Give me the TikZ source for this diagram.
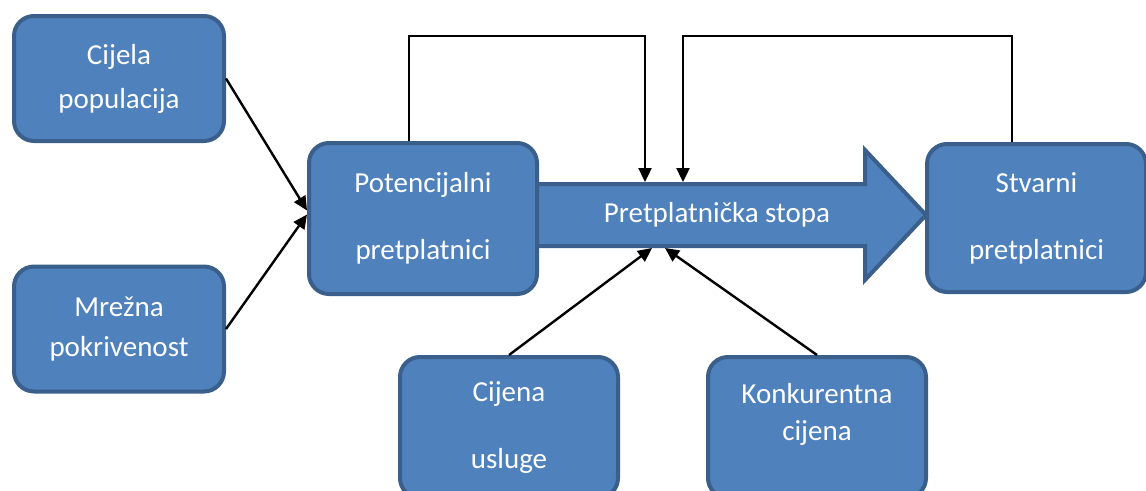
\documentclass[tikz,border=0pt]{standalone}
\usepackage{fontspec}
\setmainfont{Carlito}
\usetikzlibrary{arrows.meta}
\definecolor{plava}{HTML}{4F81BD}
\definecolor{rub}{HTML}{3A5F8B}
\begin{document}
\begin{tikzpicture}[x=1pt,y=-1pt,
    blok/.style={draw=rub,fill=plava,line width=4pt,rounded corners=20pt,
      text=white,align=center,inner sep=0pt,font=\fontsize{29}{42}\selectfont},
    veza/.style={line width=2.4pt,-{Triangle[length=14pt,width=13pt]}}]
  \useasboundingbox (0,0) rectangle (1146,490);
  % velika strelica
  \draw[rub,fill=plava,line width=4pt,line join=miter]
    (535,184) -- (865,184) -- (865,150) -- (926,215) -- (865,280)
    -- (865,246) -- (535,246) -- cycle;
  \node[text=white,font=\fontsize{29}{35}\selectfont] (stopa) at (717,215) {Pretplatnička stopa};
  \node[blok,minimum width=210pt,minimum height=125pt] (cijela) at (119,78.5) {Cijela\\[2pt]populacija};
  \node[blok,minimum width=210pt,minimum height=125pt] (mreza) at (119,329) {Mrežna\\[-2pt]pokrivenost};
  \node[blok,minimum width=228pt,minimum height=151pt] (pot) at (423,218.5) {Potencijalni\\[25pt]pretplatnici};
  \node[blok,minimum width=219pt,minimum height=148pt] (stvarni) at (1036.5,218) {Stvarni\\[25pt]pretplatnici};
  \node[blok,minimum width=218pt,minimum height=141pt] (usluga) at (509,427.5) {Cijena\\[25pt]usluge};
  \node[blok,minimum width=218pt,minimum height=141pt] (konk) at (817,427.5) {Konkurentna\\[-5pt]cijena\\[-10pt]\mbox{}};
  % tocke na strelici
  \coordinate (gore1) at (645,182);
  \coordinate (gore2) at (683,182);
  \coordinate (dolje1) at (652,248);
  \coordinate (dolje2) at (665,248);
  \coordinate (p1) at (409,36);
  \coordinate (p2) at (1012,36);
  \draw[veza] (cijela.east) -- ([yshift=8pt]pot.west);
  \draw[veza] (mreza.east) -- ([yshift=4pt]pot.west);
  \draw[veza] (p1 |- pot.north) -- (p1) -| (gore1);
  \draw[veza] (p2 |- stvarni.north) -- (p2) -| (gore2);
  \draw[veza] (usluga.north) -- (dolje1);
  \draw[veza] (konk.north) -- (dolje2);
\end{tikzpicture}
\end{document}
